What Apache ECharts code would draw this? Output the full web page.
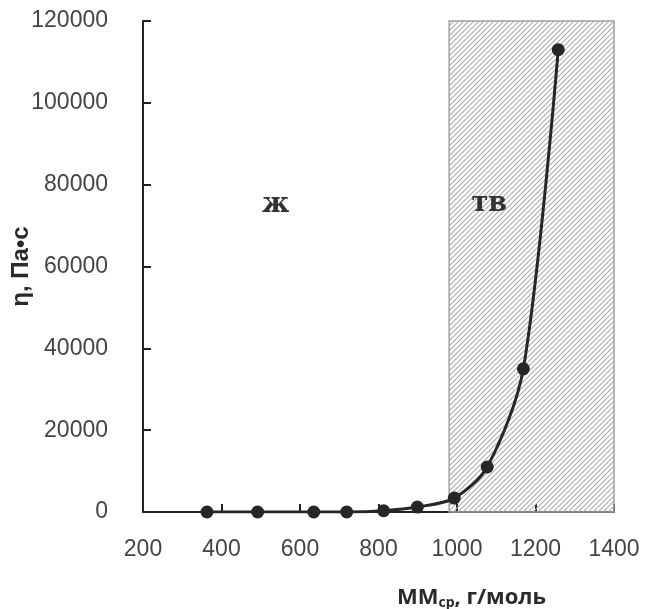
<!DOCTYPE html>
<html>
<head>
<meta charset="utf-8">
<script src="https://cdn.jsdelivr.net/npm/echarts@6/dist/echarts.min.js"></script>
<style>
  html, body { margin: 0; padding: 0; background: #fff; }
  #chart { width: 646px; height: 609px; }
</style>
</head>
<body>
<div id="chart"></div>
<script>
// молекулярная масса, г/моль
var mmValues = [363, 492, 635, 719, 813, 899, 993, 1077, 1169, 1258]
// вязкость, Па·с
var etaValues = [0, 0, 0, 0, 300, 1200, 3400, 11000, 35000, 113000]

var xTicks = [200, 400, 600, 800, 1000, 1200, 1400]
var yTicks = [0, 20000, 40000, 60000, 80000, 100000, 120000]

// граница твёрдой области
var solidFrom = 980

// подписи областей
var zoneNames = ['ж', 'тв']
var zoneX = [538, 1082]
var zoneY = [75000, 75300]

// штриховка
function hatch () {
  var s = 5
  var c = document.createElement('canvas')
  c.width = s
  c.height = s
  var ctx = c.getContext('2d')
  ctx.strokeStyle = '#ababab'
  ctx.lineWidth = 1.1
  ctx.beginPath()
  ctx.moveTo(0, s); ctx.lineTo(s, 0)
  ctx.moveTo(-1, 1); ctx.lineTo(1, -1)
  ctx.moveTo(s - 1, s + 1); ctx.lineTo(s + 1, s - 1)
  ctx.stroke()
  return c
}

var points = mmValues.map(function (x, i) { return [x, etaValues[i]] })

var zonePoints = zoneNames.map(function (n, i) {
  return {
    coord: [zoneX[i], zoneY[i]],
    value: n,
    symbol: 'rect',
    symbolSize: 1,
    itemStyle: { color: 'rgba(0,0,0,0)' },
    label: {
      show: true,
      position: 'inside',
      formatter: n,
      fontFamily: 'DejaVu Serif',
      fontWeight: 'bold',
      fontSize: 27,
      color: '#333'
    }
  }
})

var plain = function (v) { return String(v) }

var myChart = echarts.init(document.getElementById('chart'))
myChart.setOption({
  animation: false,
  grid: { left: 143, right: 32, top: 21, bottom: 97, outerBoundsMode: 'none', containLabel: false },
  xAxis: {
    type: 'value',
    min: xTicks[0],
    max: xTicks[xTicks.length - 1],
    interval: 200,
    name: 'MM{sub|ср}, г/моль',
    nameLocation: 'middle',
    nameGap: 74,
    nameMoveOverlap: false,
    nameTextStyle: {
      fontFamily: 'Open Sans',
      fontWeight: 'bold',
      fontSize: 22,
      color: '#2a2a2a',
      padding: [0, 0, 0, 186],
      rich: {
        sub: {
          fontFamily: 'Open Sans',
          fontWeight: 'bold',
          fontSize: 14,
          color: '#2a2a2a',
          padding: [10, 0, 0, 0]
        }
      }
    },
    axisLine: { lineStyle: { color: '#222', width: 2 } },
    axisTick: { inside: true, length: 8, lineStyle: { color: '#222', width: 2 } },
    axisLabel: {
      margin: 26,
      fontFamily: 'Liberation Sans',
      fontSize: 23,
      color: '#444',
      formatter: plain
    },
    splitLine: { show: false }
  },
  yAxis: {
    type: 'value',
    min: yTicks[0],
    max: yTicks[yTicks.length - 1],
    interval: 20000,
    name: 'η, Па•с',
    nameLocation: 'middle',
    nameGap: 110,
    nameRotate: 90,
    nameMoveOverlap: false,
    nameTextStyle: {
      fontFamily: 'Liberation Sans',
      fontWeight: 'bold',
      fontSize: 24,
      color: '#2a2a2a'
    },
    axisLine: { show: true, lineStyle: { color: '#222', width: 2 } },
    axisTick: { show: true, inside: true, length: 8, lineStyle: { color: '#222', width: 2 } },
    axisLabel: {
      margin: 35,
      fontFamily: 'Liberation Sans',
      fontSize: 23,
      color: '#444',
      formatter: plain
    },
    splitLine: { show: false }
  },
  series: [
    {
      type: 'line',
      data: points,
      smooth: 0.3,
      symbol: 'circle',
      symbolSize: 13,
      itemStyle: { color: '#262626' },
      lineStyle: { color: '#262626', width: 3 },
      z: 5,
      markArea: {
        silent: true,
        itemStyle: {
          color: { image: hatch(), repeat: 'repeat' },
          borderColor: '#a0a0a0',
          borderWidth: 1.5
        },
        data: [[{ xAxis: solidFrom, yAxis: yTicks[yTicks.length - 1] }, { xAxis: xTicks[xTicks.length - 1], yAxis: yTicks[0] }]]
      },
      markPoint: {
        silent: true,
        data: zonePoints
      }
    }
  ]
})
</script>
</body>
</html>
